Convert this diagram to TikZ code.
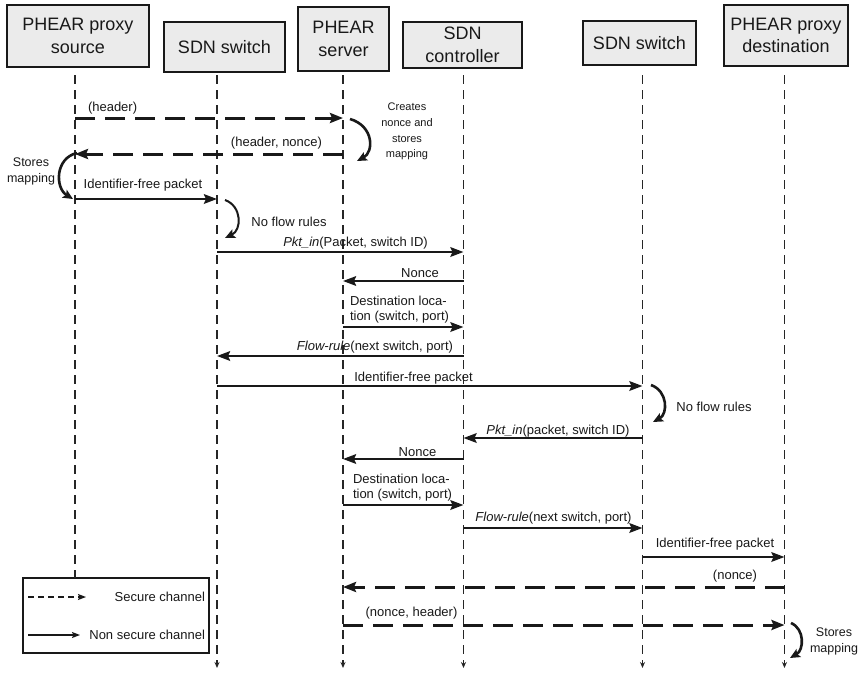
\documentclass[tikz,border=0pt]{standalone}
\usepackage{fontspec}
\setmainfont{Liberation Sans}
\usetikzlibrary{arrows.meta}
\begin{document}
\begin{tikzpicture}[x=1pt,y=-1pt,
  every node/.style={inner sep=0pt, outer sep=0pt, text=black!90},
  actor/.style={draw=black!90, line width=2.6pt, fill=black!8, align=center,
    font=\fontsize{18}{22.5}\selectfont},
  life/.style={draw=black!85, line width=1.4pt, dash pattern=on 9pt off 6pt},
  lifeend/.style={life, -{Stealth[length=6pt,width=5pt]}},
  plain/.style={draw=black!90, line width=2.5pt,
    -{Stealth[length=13pt,width=9.5pt,inset=2pt]}},
  secure/.style={draw=black!90, line width=3pt, dash pattern=on 20pt off 10pt,
    -{Stealth[length=13pt,width=10pt,inset=2pt]}},
  loop/.style={draw=black!90, line width=2.6pt,
    -{Stealth[length=10pt,width=9pt,inset=2pt]}},
  msg/.style={font=\fontsize{13}{15.5}\selectfont},
  note/.style={align=center, font=\fontsize{12.5}{16}\selectfont},
  smallnote/.style={align=center, font=\fontsize{11}{15.7}\selectfont},
  legtext/.style={font=\fontsize{13}{15}\selectfont, anchor=east},
  legbox/.style={draw=black!90, line width=1.4pt},
  legplain/.style={draw=black!90, line width=1.4pt, -{Stealth[length=8pt,width=6pt,inset=1.5pt]}},
  legsecure/.style={legplain, dash pattern=on 6pt off 4pt}
]
\useasboundingbox (0,0) rectangle (863,673);
\fill[white] (0,0) rectangle (863,673);

% participants
\node[actor, minimum width=142pt, minimum height=62pt] (hs) at (78,36) {PHEAR proxy\\source};
\node[actor, minimum width=121pt, minimum height=50pt] (h1) at (224.5,47) {SDN switch};
\node[actor, minimum width=91pt, minimum height=64pt] (hp) at (343.5,39) {PHEAR\\server};
\node[actor, minimum width=119pt, minimum height=46pt] (hc) at (462.5,45) {SDN\\controller};
\node[actor, minimum width=113pt, minimum height=44pt] (h2) at (639.5,43) {SDN switch};
\node[actor, minimum width=124pt, minimum height=61pt] (hd) at (786,35.5) {PHEAR proxy\\destination};

% lifeline tops and ends
\coordinate (ls) at (75,75);
\coordinate (l1) at (217,75);
\coordinate (lp) at (343,75);
\coordinate (lc) at (463.5,75);
\coordinate (l2) at (642.5,75);
\coordinate (ld) at (784.5,75);
\coordinate (e1) at (217,668);
\coordinate (ep) at (343,668);
\coordinate (ec) at (463.5,668);
\coordinate (e2) at (642.5,668);
\coordinate (ed) at (784.5,668);

% legend
\node[legbox, minimum width=186pt, minimum height=75pt] (leg) at (116,615.5) {};
\coordinate (k1a) at (28,597);
\coordinate (k1b) at (86,597);
\coordinate (k2a) at (28,635);
\coordinate (k2b) at (80,635);
\draw[legsecure] (k1a) -- (k1b);
\draw[legplain] (k2a) -- (k2b);
\node[legtext] (lt1) at (205,597) {Secure channel};
\node[legtext] (lt2) at (205,635) {Non secure channel};

% lifelines
\draw[life] (ls) -- (ls |- leg.north);
\draw[lifeend] (l1) -- (e1);
\draw[lifeend] (lp) -- (ep);
\draw[lifeend] (lc) -- (ec);
\draw[lifeend] (l2) -- (e2);
\draw[lifeend] (ld) -- (ed);

% messages
\draw[secure] (ls |- 0,118) -- (lp |- 0,118);
\draw[secure] (lp |- 0,154) -- (ls |- 0,154);
\draw[plain] (ls |- 0,199) -- (l1 |- 0,199);
\draw[plain] (l1 |- 0,252) -- (lc |- 0,252);
\draw[plain] (lc |- 0,281) -- (lp |- 0,281);
\draw[plain] (lp |- 0,327) -- (lc |- 0,327);
\draw[plain] (lc |- 0,356) -- (l1 |- 0,356);
\draw[plain] (l1 |- 0,386) -- (l2 |- 0,386);
\draw[plain] (l2 |- 0,438) -- (lc |- 0,438);
\draw[plain] (lc |- 0,459) -- (lp |- 0,459);
\draw[plain] (lp |- 0,505) -- (lc |- 0,505);
\draw[plain] (lc |- 0,528) -- (l2 |- 0,528);
\draw[plain] (l2 |- 0,557) -- (ld |- 0,557);
\draw[secure] (ld |- 0,587) -- (lp |- 0,587);
\draw[secure] (lp |- 0,625) -- (ld |- 0,625);

% message labels
\node[msg, anchor=west] (t1) at (88,108) {(header)};
\node[msg] (t2) at (276.5,143) {(header, nonce)};
\node[msg] (t3) at (143,185) {Identifier-free packet};
\node[msg] (t4) at (355.5,243) {\textit{Pkt\_in}(Packet, switch ID)};
\node[msg] (t5) at (420,273) {Nonce};
\node[msg, align=left, anchor=west] (t6) at (350,309.5) {Destination loca-\\tion (switch, port)};
\node[msg] (t7) at (375,347) {\textit{Flow-rule}(next switch, port)};
\node[msg] (t8) at (413.5,378) {Identifier-free packet};
\node[msg] (t9) at (558,431) {\textit{Pkt\_in}(packet, switch ID)};
\node[msg] (t10) at (417.5,452) {Nonce};
\node[msg, align=left, anchor=west] (t11) at (353,487.5) {Destination loca-\\tion (switch, port)};
\node[msg] (t12) at (553.5,518) {\textit{Flow-rule}(next switch, port)};
\node[msg] (t13) at (715,544) {Identifier-free packet};
\node[msg] (t14) at (735,576) {(nonce)};
\node[msg] (t15) at (411.5,613) {(nonce, header)};

% local processing steps
\coordinate (a1s) at (350,119);
\coordinate (a1e) at (357,161);
\draw[loop] (a1s) .. controls (374,126) and (374,152) .. (a1e);
\node[smallnote] (n1) at (407,131.5) {Creates\\nonce and\\stores\\mapping};

\coordinate (a2s) at (77,153);
\coordinate (a2e) at (73,199);
\draw[loop] (a2s) .. controls (55,158) and (55,188) .. (a2e);
\node[note] (n2) at (31,171) {Stores\\mapping};

\coordinate (a3s) at (225,200);
\coordinate (a3e) at (225,238);
\draw[loop, line width=2pt] (a3s) .. controls (242,206) and (242,230) .. (a3e);
\node[msg] (n3) at (289,222) {No flow rules};

\coordinate (a4s) at (651,385);
\coordinate (a4e) at (653,422);
\draw[loop] (a4s) .. controls (668,391) and (668,414) .. (a4e);
\node[msg] (n4) at (714,407) {No flow rules};

\coordinate (a5s) at (791,623);
\coordinate (a5e) at (790,658);
\draw[loop] (a5s) .. controls (805,629) and (804,650) .. (a5e);
\node[note] (n5) at (834,641.5) {Stores\\mapping};
\end{tikzpicture}
\end{document}
